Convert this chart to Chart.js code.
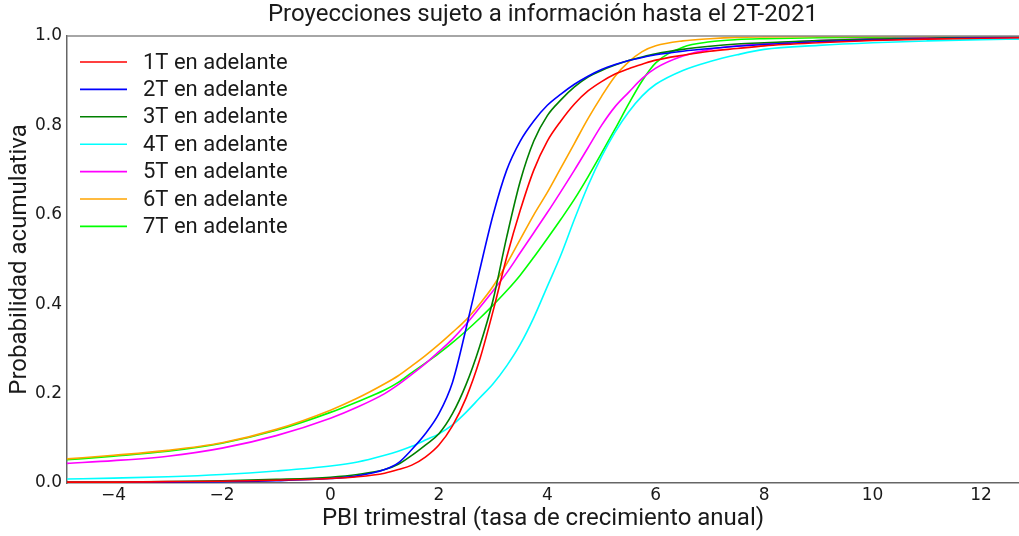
<!DOCTYPE html>
<html>
<head>
<meta charset="utf-8">
<script src="https://cdn.jsdelivr.net/npm/chart.js@4.4.1/dist/chart.umd.min.js"></script>
<style>
  html, body { margin: 0; padding: 0; background: #ffffff; }
  #wrap { width: 1019px; height: 536px; }
</style>
</head>
<body>
<div id="wrap"><canvas id="c" width="1019" height="536"></canvas></div>
<script>
const titleText = 'Proyecciones sujeto a información hasta el 2T-2021';
const xTitle = 'PBI trimestral (tasa de crecimiento anual)';
const yTitle = 'Probabilidad acumulativa';

const xTickValues = [-4, -2, 0, 2, 4, 6, 8, 10, 12];
const yTickValues = [0, 0.2, 0.4, 0.6, 0.8, 1.0];

const seriesNames = ['1T en adelante', '2T en adelante', '3T en adelante', '4T en adelante',
                     '5T en adelante', '6T en adelante', '7T en adelante'];
const seriesColors = ['#ff0000', '#0000ff', '#008000', '#00ffff', '#ff00ff', '#ffa500', '#00ff00'];

const xs = [-4.86, -4, -3, -2, -1, 0, 0.5, 1, 1.25, 1.5, 1.75, 2, 2.25, 2.5, 2.75, 3, 3.25, 3.5, 3.75,
            4, 4.25, 4.5, 4.75, 5, 5.25, 5.5, 5.75, 6, 6.5, 7, 7.5, 8, 9, 10, 11, 12, 12.7];

const s1T = [0.002, 0.002, 0.003, 0.004, 0.006, 0.010, 0.014, 0.022, 0.030, 0.040, 0.058, 0.085, 0.128, 0.190, 0.275, 0.385, 0.505, 0.610, 0.700,
             0.765, 0.810, 0.848, 0.877, 0.898, 0.915, 0.927, 0.937, 0.946, 0.957, 0.966, 0.972, 0.978, 0.985, 0.990, 0.993, 0.995, 0.996];
const s2T = [0.001, 0.001, 0.002, 0.003, 0.005, 0.010, 0.016, 0.030, 0.045, 0.075, 0.110, 0.155, 0.225, 0.345, 0.475, 0.600, 0.700, 0.765, 0.810,
             0.845, 0.870, 0.892, 0.910, 0.925, 0.936, 0.945, 0.952, 0.958, 0.966, 0.972, 0.977, 0.981, 0.987, 0.991, 0.994, 0.996, 0.997];
const s3T = [0.002, 0.002, 0.003, 0.005, 0.008, 0.013, 0.019, 0.030, 0.042, 0.062, 0.085, 0.110, 0.155, 0.220, 0.305, 0.410, 0.550, 0.675, 0.765,
             0.822, 0.857, 0.886, 0.908, 0.923, 0.935, 0.945, 0.953, 0.960, 0.970, 0.977, 0.982, 0.985, 0.990, 0.993, 0.995, 0.997, 0.998];
const s4T = [0.009, 0.011, 0.014, 0.019, 0.027, 0.038, 0.047, 0.062, 0.071, 0.082, 0.096, 0.110, 0.130, 0.158, 0.190, 0.222, 0.262, 0.310, 0.370,
             0.440, 0.510, 0.590, 0.665, 0.730, 0.785, 0.830, 0.866, 0.892, 0.923, 0.943, 0.958, 0.970, 0.979, 0.985, 0.989, 0.992, 0.993];
const s5T = [0.044, 0.050, 0.060, 0.078, 0.106, 0.145, 0.170, 0.200, 0.220, 0.243, 0.267, 0.294, 0.322, 0.355, 0.392, 0.430, 0.470, 0.515, 0.560,
             0.605, 0.652, 0.700, 0.750, 0.800, 0.842, 0.874, 0.905, 0.928, 0.955, 0.970, 0.978, 0.983, 0.990, 0.994, 0.996, 0.997, 0.998];
const s6T = [0.054, 0.062, 0.073, 0.090, 0.120, 0.163, 0.190, 0.222, 0.240, 0.262, 0.285, 0.310, 0.337, 0.365, 0.400, 0.440, 0.490, 0.545, 0.600,
             0.650, 0.705, 0.760, 0.815, 0.865, 0.910, 0.942, 0.965, 0.978, 0.989, 0.994, 0.997, 0.998, 0.999, 0.999, 1.000, 1.000, 1.000];
const s7T = [0.052, 0.060, 0.071, 0.089, 0.118, 0.158, 0.182, 0.208, 0.225, 0.247, 0.268, 0.290, 0.314, 0.340, 0.368, 0.398, 0.430, 0.465, 0.505,
             0.547, 0.590, 0.635, 0.685, 0.738, 0.792, 0.848, 0.900, 0.940, 0.975, 0.987, 0.992, 0.994, 0.996, 0.997, 0.998, 0.998, 0.999];

const seriesValues = [s1T, s2T, s3T, s4T, s5T, s6T, s7T];

const datasets = seriesNames.map((name, i) => ({
  label: name,
  data: xs.map((x, j) => ({ x: x, y: seriesValues[i][j] })),
  borderColor: seriesColors[i],
  backgroundColor: seriesColors[i],
  borderWidth: 1.6,
  pointRadius: 0,
  fill: false,
  cubicInterpolationMode: 'monotone'
}));

const innerLegend = {
  id: 'innerLegend',
  afterDatasetsDraw(chart) {
    const ctx = chart.ctx;
    const a = chart.chartArea;
    ctx.save();
    ctx.font = '22px Roboto';
    ctx.textBaseline = 'middle';
    ctx.textAlign = 'left';
    chart.data.datasets.forEach((ds, i) => {
      const y = a.top + 26 + i * 27.4;
      ctx.strokeStyle = ds.borderColor;
      ctx.lineWidth = 1.6;
      ctx.beginPath();
      ctx.moveTo(a.left + 13, y);
      ctx.lineTo(a.left + 60, y);
      ctx.stroke();
      ctx.fillStyle = '#1a1a1a';
      ctx.fillText(ds.label, a.left + 76, y + 1);
    });
    ctx.restore();
  }
};

const topSpine = {
  id: 'topSpine',
  afterDraw(chart) {
    const ctx = chart.ctx;
    const a = chart.chartArea;
    ctx.save();
    ctx.strokeStyle = '#888888';
    ctx.lineWidth = 1.5;
    ctx.beginPath();
    ctx.moveTo(a.left, a.top);
    ctx.lineTo(a.right, a.top);
    ctx.stroke();
    ctx.restore();
  }
};

new Chart(document.getElementById('c'), {
  type: 'line',
  data: { datasets: datasets },
  plugins: [innerLegend, topSpine],
  options: {
    responsive: false,
    animation: false,
    layout: { padding: { left: 0, right: 0, top: 0, bottom: 0 } },
    plugins: {
      legend: { display: false },
      tooltip: { enabled: false },
      title: {
        display: true,
        fullSize: false,
        text: titleText,
        color: '#1a1a1a',
        font: { family: 'Roboto', size: 24, weight: 'normal', lineHeight: 1.2 },
        padding: { top: 1, bottom: 6.2 }
      }
    },
    scales: {
      x: {
        type: 'linear',
        min: -4.86,
        max: 12.7,
        grid: { display: false, drawTicks: false, tickLength: 0 },
        border: { display: true, color: '#666666', width: 1.5 },
        afterFit(s) { s.height = 53; },
        afterBuildTicks(s) { s.ticks = xTickValues.map(v => ({ value: v })); },
        ticks: {
          color: '#1a1a1a',
          padding: 2,
          font: { family: 'DejaVu Sans', size: 17 },
          callback: v => (v < 0 ? '\u2212' + Math.abs(v) : String(v))
        },
        title: {
          display: true,
          text: xTitle,
          color: '#1a1a1a',
          font: { family: 'Roboto', size: 24, lineHeight: 1.2 },
          padding: { top: 0, bottom: 2.6 }
        }
      },
      y: {
        type: 'linear',
        min: 0,
        max: 1,
        grid: { display: false, drawTicks: false, tickLength: 0 },
        border: { display: true, color: '#666666', width: 1.5 },
        afterFit(s) { s.width = 67; },
        afterBuildTicks(s) { s.ticks = yTickValues.map(v => ({ value: v })); },
        ticks: {
          color: '#1a1a1a',
          padding: 5,
          font: { family: 'DejaVu Sans', size: 17 },
          callback: v => Number(v).toFixed(1)
        },
        title: {
          display: true,
          text: yTitle,
          color: '#1a1a1a',
          font: { family: 'Roboto', size: 24, lineHeight: 1.2 },
          padding: { top: 6, bottom: 0 }
        }
      }
    }
  }
});
</script>
</body>
</html>
